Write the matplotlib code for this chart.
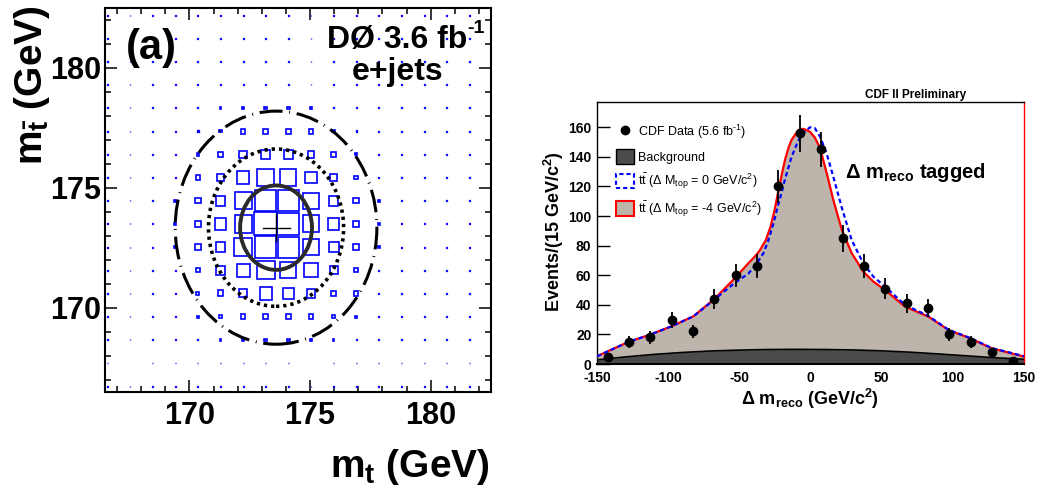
import numpy as np
import matplotlib
matplotlib.use("Agg")
import matplotlib.pyplot as plt
from matplotlib.patches import Rectangle, Ellipse, Patch
from matplotlib.lines import Line2D
from matplotlib.ticker import MultipleLocator

plt.rcParams['font.family'] = ['Liberation Sans', 'DejaVu Sans']
plt.rcParams['mathtext.fontset'] = 'custom'
plt.rcParams['mathtext.rm'] = 'Liberation Sans'
plt.rcParams['mathtext.it'] = 'Liberation Sans:italic'
plt.rcParams['mathtext.bf'] = 'Liberation Sans:bold'
plt.rcParams['axes.unicode_minus'] = False

# ---------------- Left panel data (D0 likelihood boxes) ----------------
mt_cols = np.linspace(166.6, 181.6, 17)      # bin centres, m_t
mtbar_rows = np.linspace(182.2, 166.73, 17)  # bin centres, m_tbar (top row first)
B = 4  # minimal box size (%)
box_pct = [
    [B]*17,
    [B]*17,
    [B]*17,
    [B]*17,
    [B, B, B, B, B, 8, 11, 11, 11, 8, B, B, B, B, B, B, B],
    [B, B, B, B, 6, 11, 21, 21, 21, 21, 11, 6, B, B, B, B, B],
    [B, B, B, B, 11, 24, 32, 41, 41, 29, 24, 9, B, B, B, B, B],
    [B, B, B, 6, 18, 33, 53, 73, 71, 51, 32, 16, 5, B, B, B, B],
    [B, B, B, 8, 24, 42, 75, 92, 92, 68, 42, 24, 8, B, B, B, B],
    [B, B, B, 8, 29, 53, 75, 100, 98, 74, 50, 27, 8, B, B, B, B],
    [B, B, B, 8, 24, 44, 79, 94, 91, 68, 44, 24, 8, B, B, B, B],
    [B, B, B, 6, 18, 38, 57, 79, 71, 62, 35, 18, 6, B, B, B, B],
    [B, B, B, B, 13, 26, 35, 53, 50, 38, 24, 18, B, B, B, B, B],
    [B, B, B, B, 8, 15, 21, 24, 23, 21, 15, 8, B, B, B, B, B],
    [B, B, B, B, 5, 8, 9, 11, 11, 8, 8, B, B, B, B, B, B],
    [B]*17,
    [B]*17,
]
fit_center = (173.59, 173.34)
ell_halfwidth_x = [1.49, 2.80, 4.18]   # 1, 2, 3 sigma
ell_halfwidth_y = [1.76, 3.28, 4.86]
cross_half = 0.56

# ---------------- Right panel data (CDF) ----------------
data_x = [-142.5, -127.5, -112.5, -97.5, -82.5, -67.5, -52.5, -37.5, -22.5, -7.5,
          7.5, 22.5, 37.5, 52.5, 67.5, 82.5, 97.5, 112.5, 127.5, 142.5]
data_y = [5, 15, 18, 30, 22, 44, 60, 66, 120, 156,
          145, 85, 66, 51, 41, 38, 20, 15, 8, 2]

red_x = [-150, -128, -112.8, -97.6, -82.3, -67.6, -53, -43.7, -37.8, -35.5, -31.5, -28,
         -25, -22.6, -20, -17.9, -15.5, -13.3, -8.6, -5, -0.4, 3.1, 6.7, 11.4, 16,
         21.9, 28.9, 37.1, 44.2, 52.4, 66.4, 82.8, 96.9, 112.1, 127.3, 150]
red_y = [5.2, 14.9, 19.8, 25.5, 32.2, 43.9, 58.1, 68, 74, 77, 83.5, 93,
         105, 117, 129, 138, 146, 151.5, 158, 159, 157, 153, 146, 129, 111,
         91, 75, 62.4, 55.7, 50, 38.8, 32, 23, 17.4, 10.6, 5.0]

blue_x = [-150, -128, -112.8, -97.6, -82.3, -67.6, -53, -43.7, -37.8, -33, -29.8, -26,
          -22.6, -20, -17.9, -13.3, -8.6, -5.1, -0.4, 3, 6.7, 11.4, 16, 21.9, 28.9,
          37.1, 44.2, 52.4, 66.4, 82.8, 96.9, 112.1, 127.3, 150]
blue_y = [5.2, 14.9, 19.8, 25.5, 32.2, 43.5, 55, 61, 68, 75, 83, 95,
          108, 117, 125, 140, 151, 156, 160, 159.5, 153.7, 142, 126.7, 106, 83.8,
          68, 59, 52.3, 39.9, 32.5, 23.2, 17.6, 10.8, 5.3]

bkg_x = [-150, -130, -110, -90, -70, -50, -30, -10, 10, 30, 50, 70, 90, 110, 130, 150]
bkg_y = [2.8, 4.8, 6.5, 7.8, 8.8, 9.4, 9.8, 9.9, 9.8, 9.5, 8.9, 8.0, 6.8, 5.5, 4.2, 3.2]

TAN = '#bdb5ac'
DARK = '#4b4b4b'

fig = plt.figure(figsize=(10.42, 4.92), dpi=100)

# ================= Left panel =================
axL = fig.add_axes([105/1042, 1-391.7/492, 386/1042, 383.7/492])
axL.set_xlim(166.5, 182.5)
axL.set_ylim(166.5, 182.5)
cw = mt_cols[1] - mt_cols[0]
ch = mtbar_rows[0] - mtbar_rows[1]
for r, yc in enumerate(mtbar_rows):
    for c, xc in enumerate(mt_cols):
        f = box_pct[r][c] / 100.0
        w = f * cw
        h = f * ch
        small = f < 0.07
        axL.add_patch(Rectangle((xc - w/2, yc - h/2), w, h,
                                facecolor='#0000ff' if small else 'none',
                                edgecolor='#0000ff',
                                linewidth=1.0 if small else 1.2, zorder=2))
styles = [dict(ls='-', lw=2.8, color='#2a2a2a'),
          dict(ls=(0, (0.9, 1.1)), lw=2.6, color='black'),
          dict(ls=(0, (7.5, 2.2, 0.3, 2.2)), lw=2.2, color='black')]
for hw, hh, st in zip(ell_halfwidth_x, ell_halfwidth_y, styles):
    axL.add_patch(Ellipse(fit_center, 2*hw, 2*hh, facecolor='none',
                          edgecolor=st['color'], linestyle=st['ls'],
                          linewidth=st['lw'], zorder=3))
axL.plot([fit_center[0]-cross_half, fit_center[0]+cross_half],
         [fit_center[1], fit_center[1]], color='black', lw=1.0, zorder=4)
axL.plot([fit_center[0], fit_center[0]],
         [fit_center[1]-cross_half, fit_center[1]+cross_half], color='black', lw=1.0, zorder=4)

axL.xaxis.set_major_locator(MultipleLocator(5))
axL.yaxis.set_major_locator(MultipleLocator(5))
axL.xaxis.set_minor_locator(MultipleLocator(1))
axL.yaxis.set_minor_locator(MultipleLocator(1))
axL.tick_params(which='both', direction='in', top=True, right=True, width=1.1)
axL.tick_params(which='major', length=8.5)
axL.tick_params(which='minor', length=4.3)
axL.tick_params(axis='x', which='major', pad=7)
axL.tick_params(axis='y', which='major', pad=3)
for lab in axL.get_xticklabels() + axL.get_yticklabels():
    lab.set_fontsize(22)
    lab.set_fontweight('bold')
for s in axL.spines.values():
    s.set_linewidth(1.5)

axL.text(0.054, 0.896, '(a)', transform=axL.transAxes, fontsize=30,
         fontweight='bold', ha='left', va='center')
axL.text(0.938, 0.896, 'DØ 3.6 fb', transform=axL.transAxes,
         fontsize=23, fontweight='bold', ha='right', va='baseline')
axL.text(0.938, 0.935, '-1', transform=axL.transAxes,
         fontsize=14, fontweight='bold', ha='left', va='baseline')
axL.text(0.759, 0.812, 'e+jets', transform=axL.transAxes, fontsize=23,
         fontweight='bold', ha='center', va='baseline')
fig.text(490/1042, 1-476.7/492, r'm$_{\mathbf{t}}$ (GeV)', fontsize=28,
         fontweight='bold', ha='right', va='baseline')
fig.text(12/1042, 1-5/492, r'm$_{\mathbf{\bar{t}}}$ (GeV)', fontsize=28,
         fontweight='bold', ha='left', va='top', rotation=90)

# ================= Right panel =================
axR = fig.add_axes([597/1042, 1-364/492, 427/1042, 262.3/492])
axR.set_xlim(-150, 150)
axR.set_ylim(0, 177.3)
axR.fill_between(red_x, 0, red_y, color=TAN, linewidth=0, zorder=1)
axR.fill_between(bkg_x, 0, bkg_y, color=DARK, linewidth=0, zorder=2)
axR.plot(bkg_x, bkg_y, color='black', lw=1.2, zorder=3)
axR.plot(red_x, red_y, color='#ff0000', lw=1.6, zorder=4)
axR.plot(blue_x, blue_y, color='#0000ff', lw=1.6, ls=(0, (2, 1.4)), zorder=5)
axR.errorbar(data_x, data_y, yerr=np.sqrt(data_y), fmt='o', color='black',
             markersize=6, elinewidth=1.3, capsize=0, zorder=6)

axR.yaxis.set_major_locator(MultipleLocator(20))
axR.xaxis.set_major_locator(MultipleLocator(50))
axR.tick_params(axis='y', direction='in', length=9, width=1.0, pad=4)
axR.tick_params(axis='x', length=0, pad=5)
for lab in axR.get_xticklabels() + axR.get_yticklabels():
    lab.set_fontsize(10)
    lab.set_fontweight('bold')
for s in axR.spines.values():
    s.set_linewidth(1.0)
axR.spines['right'].set_color('#ff0000')
axR.spines['bottom'].set_linewidth(1.5)

handles = [
    Line2D([], [], marker='o', color='black', ls='none', markersize=6),
    Patch(facecolor=DARK, edgecolor='black', linewidth=1.0),
    Patch(facecolor='white', edgecolor='#0000ff', linewidth=1.5, linestyle=(0, (2, 1.4))),
    Patch(facecolor=TAN, edgecolor='#ff0000', linewidth=1.5),
]
labels = [
    r'CDF Data (5.6 fb$^{\text{-1}}$)',
    'Background',
    r't$\mathrm{\bar{t}}$ (Δ M$_{\mathrm{top}}$ = 0 GeV/c$^{2}$)',
    r't$\mathrm{\bar{t}}$ (Δ M$_{\mathrm{top}}$ = -4 GeV/c$^{2}$)',
]
axR.legend(handles, labels, loc='upper left', bbox_to_anchor=(0.044, 0.92),
           frameon=False, fontsize=9, handlelength=1.45, handleheight=1.4,
           handletextpad=0.35, labelspacing=0.66, borderpad=0, borderaxespad=0)

axR.text(0.581, 0.709, r'Δ m$_{\mathbf{reco}}$ tagged', transform=axR.transAxes,
         fontsize=14.5, fontweight='bold', ha='left', va='baseline')
fig.text(916/1042, 1-95/492, 'CDF II Preliminary', fontsize=8.5,
         fontweight='bold', ha='center', va='center')
fig.text(810/1042, 1-405/492, r'Δ m$_{\mathbf{reco}}$ (GeV/c$^{\mathbf{2}}$)',
         fontsize=13, fontweight='bold', ha='center', va='baseline')
fig.text(554/1042, 1-232/492, r'Events/(15 GeV/c$^{\mathbf{2}}$)', fontsize=13,
         fontweight='bold', ha='center', va='center', rotation=90)

fig.savefig('out.png', dpi=100)
